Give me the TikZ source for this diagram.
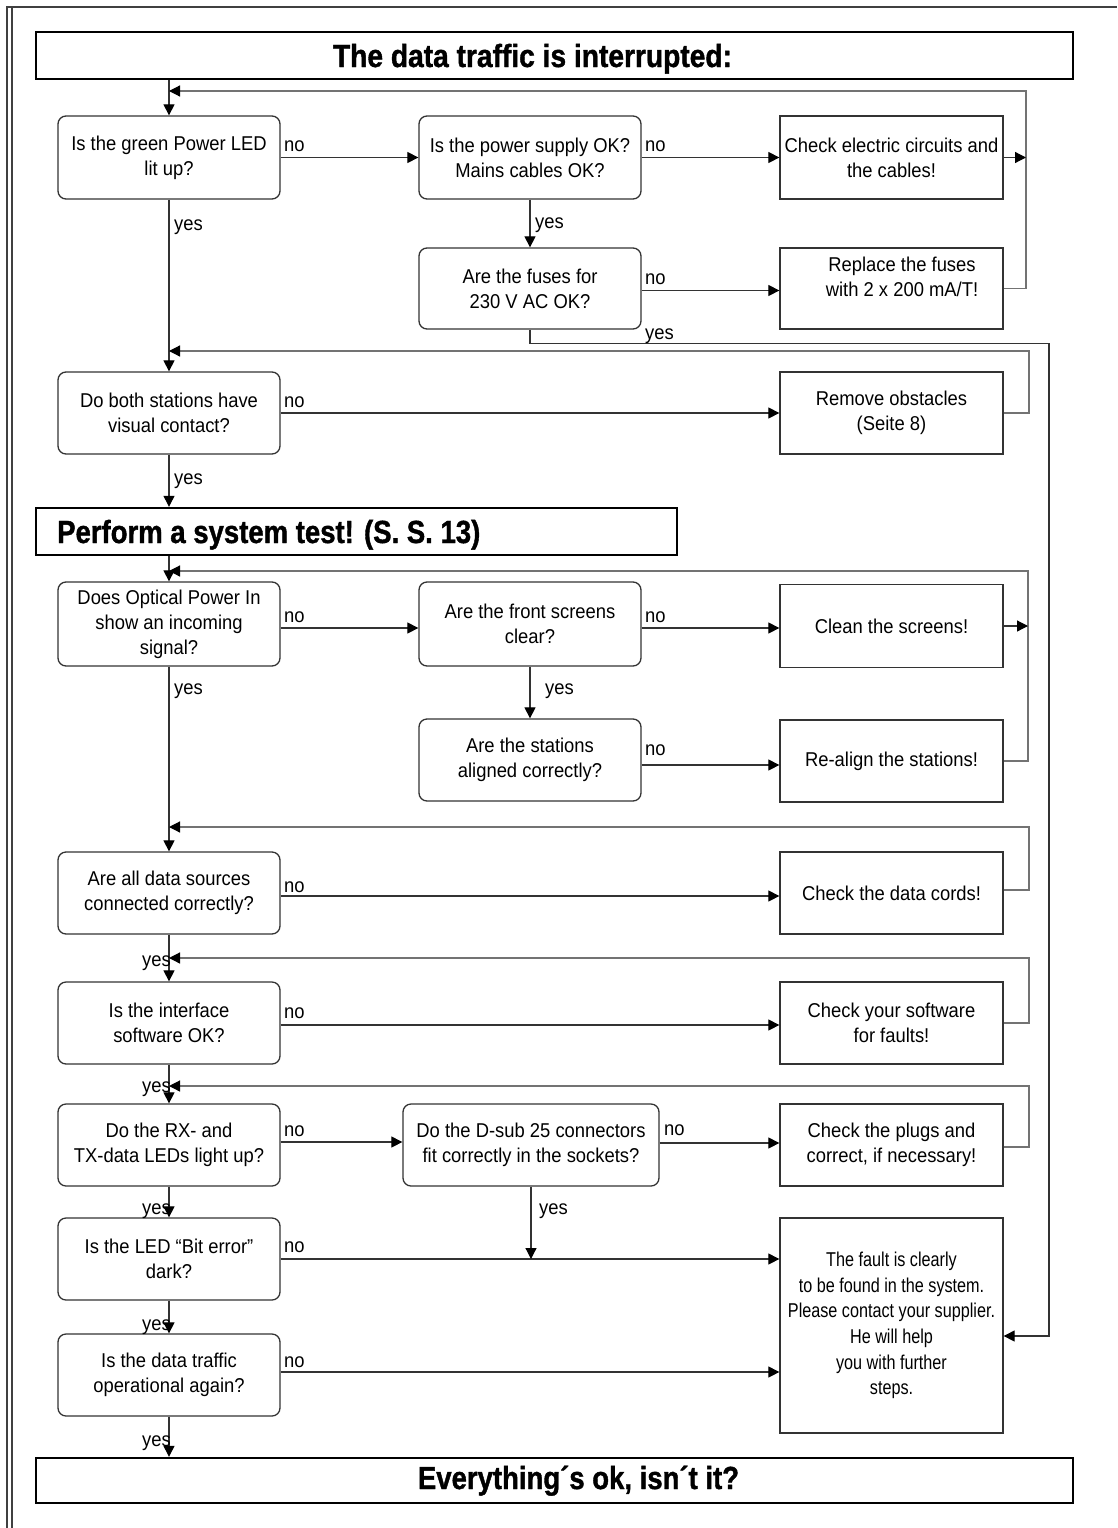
\documentclass[tikz,border=0pt]{standalone}
\usepackage{fontspec}
\setmainfont{Liberation Sans}[FakeStretch=0.92]
\newfontfamily\headfont{Liberation Sans}[FakeStretch=0.86,BoldFeatures={FakeBold=1.2}]
\newfontfamily\narrowfont{Liberation Sans}[FakeStretch=0.81]
\usetikzlibrary{arrows.meta}
\newcommand\myfnt{\fontsize{20}{25}\selectfont}
\newcommand\myhead{\headfont\bfseries\fontsize{32}{36}\selectfont}
\definecolor{linec}{gray}{0.2}
\definecolor{fbc}{gray}{0.45}
\definecolor{pagec}{gray}{0.25}
\tikzset{
  dec/.style={draw=linec, line width=1.3pt, rounded corners=8pt, minimum width=222pt,
    minimum height=83pt, inner sep=0pt, align=center, font=\myfnt},
  act/.style={draw=linec, line width=1.3pt, minimum width=223pt,
    minimum height=83pt, inner sep=0pt, align=center, font=\myfnt},
  ttl/.style={draw=black, line width=2.4pt, inner sep=0pt},
  ttltxt/.style={font=\myhead, inner sep=0pt},
  arr/.style={draw=linec, line width=1.2pt, -{Triangle[length=11pt,width=11pt,color=black]}},
  fb/.style={draw=fbc, line width=1.2pt, -{Triangle[length=11pt,width=11pt,color=black]}},
  lbl/.style={font=\myfnt, inner sep=0pt},
}
\begin{document}
\begin{tikzpicture}[x=1pt,y=-1pt]
\useasboundingbox (0,0) rectangle (1117,1528);
% page frame
\draw[pagec, line width=1.2pt] (7,1528) -- (7,7) -- (1117,7);
\draw[pagec, line width=1.2pt] (12,7) -- (12,1528);

% titles
\node[ttl, minimum width=1037pt, minimum height=47pt] (t1) at (554.5,55.5) {};
\node[ttltxt, anchor=base] (t1txt) at (532.5,67) {\addfontfeature{FakeStretch=0.88}The data traffic is interrupted:};
\node[ttl, minimum width=641pt, minimum height=47pt] (t2) at (356.5,531.5) {};
\node[ttltxt, anchor=base west] (t2txt) at (57,543) {Perform a system test! (S. S. 13)};
\node[ttl, minimum width=1037pt, minimum height=45pt] (t3) at (554.5,1480.5) {};
\node[ttltxt, anchor=base] (t3txt) at (578.5,1489) {Everything´s ok, isn´t it?};

% boxes
\node[dec] (b1) at (169,157.5) {Is the green Power LED\\lit up?};
\node[dec] (b2) at (530,157.5) {Is the power supply OK?\\Mains cables OK?};
\node[act] (ce) at (891.5,157.5) {Check electric circuits and\\the cables!};
\node[dec, minimum height=81pt] (fu) at (530,288.5) {Are the fuses for\\230 V AC OK?};
\node[act, minimum height=81pt] (rep) at (891.5,288.5) {};
\node[lbl, align=center] (reptxt) at (902,277) {Replace the fuses\\with 2 x 200 mA/T!};
\node[dec, minimum height=82pt] (b3) at (169,413) {Do both stations have\\visual contact?};
\node[act, minimum height=82pt] (ro) at (891.5,413) {Remove obstacles\\(Seite 8)};
\node[dec, minimum height=84pt] (b4) at (169,624) {Does Optical Power In\\show an incoming\\signal?};
\node[dec, minimum height=84pt] (sc) at (530,624) {Are the front screens\\clear?};
\node[act] (cl) at (891.5,626) {Clean the screens!};
\node[dec, minimum height=82pt] (al) at (530,760) {Are the stations\\aligned correctly?};
\node[act, minimum height=82pt] (ra) at (891.5,761) {Re-align the stations!};
\node[dec, minimum height=82pt] (b6) at (169,893) {Are all data sources\\connected correctly?};
\node[act, minimum height=82pt] (dc) at (891.5,893) {Check the data cords!};
\node[dec, minimum height=82pt] (b7) at (169,1023) {Is the interface\\software OK?};
\node[act, minimum height=82pt] (sw) at (891.5,1023) {Check your software\\for faults!};
\node[dec, minimum height=82pt] (b8) at (169,1145) {Do the RX- and\\TX-data LEDs light up?};
\node[dec, minimum height=82pt, minimum width=256pt] (ds) at (531,1145) {Do the D-sub 25 connectors\\fit correctly in the sockets?};
\node[act, minimum height=82pt] (pl) at (891.5,1145) {Check the plugs and\\correct, if necessary!};
\node[dec, minimum height=82pt] (b9) at (169,1259) {Is the LED “Bit error”\\dark?};
\node[dec, minimum height=82pt] (b10) at (169,1375) {Is the data traffic\\operational again?};
\node[act, minimum height=215pt, font=\narrowfont\fontsize{20}{25.6}\selectfont] (fault) at (891.5,1325.5)
  {The fault is clearly\\to be found in the system.\\Please contact your supplier.\\He will help\\you with further\\steps.};

% feedback coordinates
\coordinate (f1) at (1026,91);
\coordinate (f2) at (1029,351);
\coordinate (f3) at (1028,571);
\coordinate (f4) at (1029,827);
\coordinate (f5) at (1029,958);
\coordinate (f6) at (1029,1086);
\coordinate (ly) at (1049,1336);

% main vertical flow
\draw[arr] (t1.south -| b1.north) -- (b1.north);
\draw[arr] (b1.south) -- (b3.north);
\draw[arr] (b3.south) -- (b3.south |- t2.north);
\draw[arr] (b4.north |- t2.south) -- (b4.north);
\draw[arr] (b4.south) -- (b6.north);
\draw[arr] (b6.south) -- (b7.north);
\draw[arr] (b7.south) -- (b8.north);
\draw[arr] (b8.south) -- (b9.north);
\draw[arr] (b9.south) -- (b10.north);
\draw[arr] (b10.south) -- (b10.south |- t3.north);

% no branches
\draw[arr] (b1.east) -- (b2.west);
\draw[arr] (b2.east) -- (ce.west);
\draw[arr] (b2.south) -- (fu.north);
\draw[arr] (fu.east) ++(0,2) -- (rep.west |- 0,290.5);
\draw[arr] (b3.east) -- (ro.west);
\draw[arr] (b4.east) ++(0,4) -- (sc.west |- 0,628);
\draw[arr] (sc.east) ++(0,4) -- (cl.west |- 0,628);
\draw[arr] (sc.south) -- (al.north);
\draw[arr] (al.east) ++(0,5) -- (ra.west |- 0,765);
\draw[arr] (b6.east) ++(0,3) -- (dc.west |- 0,896);
\draw[arr] (b7.east) ++(0,2) -- (sw.west |- 0,1025);
\draw[arr] (b8.east) ++(0,-3) -- (ds.west |- 0,1142);
\draw[arr] (ds.east) ++(0,-2) -- (pl.west |- 0,1143);
\draw[arr] (b9.east) -- (b9.east -| fault.west);
\draw[arr] (ds.south) -- (ds.south |- b9.east);
\draw[arr] (b10.east) ++(0,-3) -- (fault.west |- 0,1372);
\draw[arr] (fu.south) -- ++(0,14) -| (ly) -- (ly -| fault.east);

% feedback loops
\draw[fb] (rep.east) -| (f1) -- (f1 -| b1.north);
\draw[arr] (ce.east) -- (ce.east -| f1);
\draw[fb] (ro.east) -| (f2) -- (f2 -| b3.north);
\draw[fb] (ra.east) -| (f3) -- (f3 -| b4.north);
\draw[arr] (cl.east) -- (cl.east -| f3);
\draw[fb] (dc.east) ++(0,-3) -| (f4) -- (f4 -| b6.north);
\draw[fb] (sw.east) -| (f5) -- (f5 -| b7.north);
\draw[fb] (pl.east) ++(0,2) -| (f6) -- (f6 -| b8.north);

% labels
\node[lbl, anchor=base west] (n1) at (284,151) {no};
\node[lbl, anchor=base west] (n2) at (645,151) {no};
\node[lbl, anchor=base west] (y1) at (174,230) {yes};
\node[lbl, anchor=base west] (y2) at (535,228) {yes};
\node[lbl, anchor=base west] (n3) at (645,284) {no};
\node[lbl, anchor=base west] (y3) at (645,339) {yes};
\node[lbl, anchor=base west] (n4) at (284,407) {no};
\node[lbl, anchor=base west] (y4) at (174,484) {yes};
\node[lbl, anchor=base west] (n5) at (284,622) {no};
\node[lbl, anchor=base west] (n6) at (645,622) {no};
\node[lbl, anchor=base west] (y5) at (174,694) {yes};
\node[lbl, anchor=base west] (y6) at (545,694) {yes};
\node[lbl, anchor=base west] (n7) at (645,755) {no};
\node[lbl, anchor=base west] (n8) at (284,892) {no};
\node[lbl, anchor=base east] (y7) at (171,966) {yes};
\node[lbl, anchor=base west] (n9) at (284,1018) {no};
\node[lbl, anchor=base east] (y8) at (171,1092) {yes};
\node[lbl, anchor=base west] (n10) at (284,1136) {no};
\node[lbl, anchor=base west] (n11) at (664,1135) {no};
\node[lbl, anchor=base west] (y9) at (539,1214) {yes};
\node[lbl, anchor=base east] (y10) at (171,1214) {yes};
\node[lbl, anchor=base west] (n12) at (284,1252) {no};
\node[lbl, anchor=base east] (y11) at (171,1330) {yes};
\node[lbl, anchor=base west] (n13) at (284,1367) {no};
\node[lbl, anchor=base east] (y12) at (171,1446) {yes};
\end{tikzpicture}
\end{document}
